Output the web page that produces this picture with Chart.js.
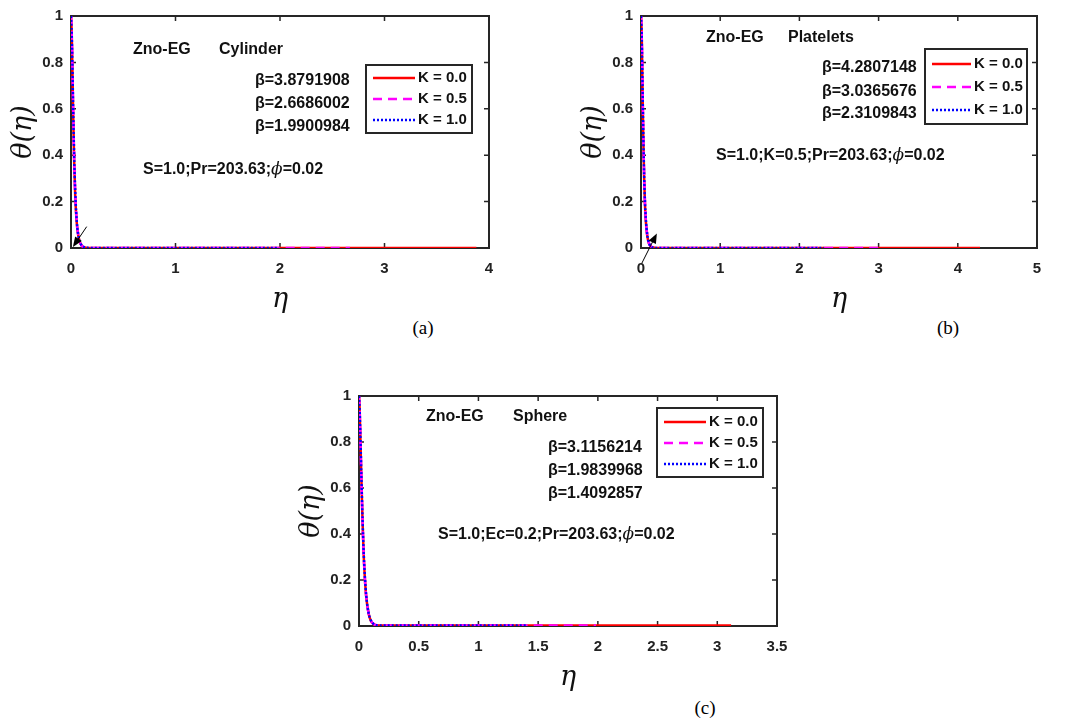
<!DOCTYPE html>
<html>
<head>
<meta charset="utf-8">
<script src="https://cdn.jsdelivr.net/npm/chart.js@4.4.0/dist/chart.umd.min.js"></script>
<style>
  body { margin: 0; background: #fff; width: 1068px; height: 718px; position: relative; overflow: hidden; }
  canvas { position: absolute; }
  .cap { position: absolute; font: 19px "Liberation Serif", "Times New Roman", serif; color: #000; transform: translate(-50%, -50%); }
</style>
</head>
<body>
<canvas id="cA" width="500" height="316" style="left:0px;top:0px"></canvas>
<canvas id="cB" width="498" height="316" style="left:570px;top:0px"></canvas>
<canvas id="cC" width="504" height="314" style="left:288px;top:380px"></canvas>
<div class="cap" style="left:423px;top:328px">(a)</div>
<div class="cap" style="left:948px;top:328px">(b)</div>
<div class="cap" style="left:705px;top:708px">(c)</div>
<script>
// --- data ---
const kLabels = ["K = 0.0", "K = 0.5", "K = 1.0"];
const yTicks = [0, 0.2, 0.4, 0.6, 0.8, 1];
const yTickLabels = ["0", "0.2", "0.4", "0.6", "0.8", "1"];

// (a) cylinder
const etaA = [0, 0.005, 0.01, 0.02, 0.03, 0.04, 0.05, 0.06, 0.08, 0.1, 0.12, 0.15, 0.2];
const thetaA_K0 = [1, 0.95, 0.86, 0.6, 0.38, 0.23, 0.14, 0.085, 0.032, 0.012, 0.004, 0.001, 0];
const thetaA_K05 = [1, 0.95, 0.86, 0.61, 0.39, 0.24, 0.145, 0.088, 0.033, 0.012, 0.004, 0.001, 0];
const thetaA_K1 = [1, 0.95, 0.87, 0.62, 0.4, 0.25, 0.15, 0.09, 0.034, 0.013, 0.005, 0.001, 0];
const betaA = [3.8791908, 2.6686002, 1.9900984];
const xTicksA = [0, 1, 2, 3, 4];
const xTickLabelsA = ["0", "1", "2", "3", "4"];

// (b) platelets
const etaB = [0, 0.005, 0.01, 0.02, 0.03, 0.04, 0.05, 0.06, 0.08, 0.1, 0.12, 0.15, 0.2];
const thetaB_K0 = [1, 0.96, 0.9, 0.67, 0.46, 0.3, 0.19, 0.12, 0.05, 0.02, 0.008, 0.002, 0];
const thetaB_K05 = [1, 0.96, 0.9, 0.68, 0.47, 0.31, 0.2, 0.125, 0.052, 0.021, 0.008, 0.002, 0];
const thetaB_K1 = [1, 0.96, 0.9, 0.68, 0.47, 0.31, 0.2, 0.13, 0.055, 0.022, 0.009, 0.002, 0];
const betaB = [4.2807148, 3.0365676, 2.3109843];
const xTicksB = [0, 1, 2, 3, 4, 5];
const xTickLabelsB = ["0", "1", "2", "3", "4", "5"];

// (c) sphere
const etaC = [0, 0.005, 0.01, 0.02, 0.03, 0.04, 0.05, 0.06, 0.08, 0.1, 0.12, 0.15, 0.2];
const thetaC_K0 = [1, 0.95, 0.85, 0.64, 0.45, 0.3, 0.2, 0.13, 0.055, 0.022, 0.009, 0.003, 0.002];
const thetaC_K05 = [1, 0.95, 0.85, 0.64, 0.45, 0.3, 0.2, 0.13, 0.056, 0.023, 0.01, 0.003, 0.002];
const thetaC_K1 = [1, 0.95, 0.86, 0.65, 0.46, 0.31, 0.21, 0.135, 0.058, 0.024, 0.01, 0.003, 0.002];
const betaC = [3.1156214, 1.9839968, 1.4092857];
const xTicksC = [0, 0.5, 1, 1.5, 2, 2.5, 3, 3.5];
const xTickLabelsC = ["0", "0.5", "1", "1.5", "2", "2.5", "3", "3.5"];

// --- styles ---
const lineStyles = [
  { color: "#ff0000", dash: [] },
  { color: "#ff00ff", dash: [9, 6] },
  { color: "#0000ff", dash: [2, 2] }
];
const frameColor = "#262626";
const boldFont = 'bold 16px "Liberation Sans", Arial, sans-serif';
const italicSerif = 'italic 17px "DejaVu Serif", serif';

function richText(ctx, segs, x, y) {
  ctx.textBaseline = "middle";
  ctx.textAlign = "left";
  let cx = x;
  segs.forEach(s => {
    ctx.font = s.f || boldFont;
    ctx.fillText(s.t, cx, y);
    cx += ctx.measureText(s.t).width;
  });
}

function arrow(ctx, x0, y0, x1, y1) {
  const ang = Math.atan2(y1 - y0, x1 - x0);
  const L = 10, W = 4;
  ctx.beginPath();
  ctx.moveTo(x0, y0);
  ctx.lineTo(x1 - L * 0.6 * Math.cos(ang), y1 - L * 0.6 * Math.sin(ang));
  ctx.lineWidth = 1;
  ctx.strokeStyle = "#000";
  ctx.stroke();
  ctx.beginPath();
  ctx.moveTo(x1, y1);
  ctx.lineTo(x1 - L * Math.cos(ang) + W * Math.sin(ang), y1 - L * Math.sin(ang) - W * Math.cos(ang));
  ctx.lineTo(x1 - L * Math.cos(ang) - W * Math.sin(ang), y1 - L * Math.sin(ang) + W * Math.cos(ang));
  ctx.closePath();
  ctx.fillStyle = "#000";
  ctx.fill();
}

const matlabBox = {
  id: "matlabBox",
  beforeDatasetsDraw(chart) {
    // frame + inward ticks on all sides, under the curves
    const { ctx, chartArea: a, scales: { x, y } } = chart;
    ctx.save();
    ctx.strokeStyle = frameColor;
    ctx.lineWidth = 2;
    ctx.setLineDash([]);
    ctx.strokeRect(a.left, a.top, a.right - a.left, a.bottom - a.top);
    ctx.lineWidth = 1.5;
    ctx.beginPath();
    x.ticks.forEach(t => {
      const px = x.getPixelForValue(t.value);
      ctx.moveTo(px, a.bottom); ctx.lineTo(px, a.bottom - 5);
      ctx.moveTo(px, a.top); ctx.lineTo(px, a.top + 5);
    });
    y.ticks.forEach(t => {
      const py = y.getPixelForValue(t.value);
      ctx.moveTo(a.left, py); ctx.lineTo(a.left + 5, py);
      ctx.moveTo(a.right, py); ctx.lineTo(a.right - 5, py);
    });
    ctx.stroke();
    ctx.restore();
  },
  afterDraw(chart, args, o) {
    const { ctx, chartArea: a, scales: { x, y } } = chart;
    ctx.save();
    // arrow, given in data coordinates
    if (o.arrow) {
      const [e0, t0, e1, t1] = o.arrow;
      arrow(ctx, x.getPixelForValue(e0), y.getPixelForValue(t0), x.getPixelForValue(e1), y.getPixelForValue(t1));
    }

    // legend box
    const lg = o.legend;
    const bx = a.left + lg.x, by = a.top + lg.y;
    ctx.fillStyle = "#fff";
    ctx.fillRect(bx, by, lg.w, lg.h);
    ctx.lineWidth = 2;
    ctx.strokeStyle = frameColor;
    ctx.strokeRect(bx, by, lg.w, lg.h);
    chart.data.datasets.forEach((d, i) => {
      const ry = by + lg.rows[i];
      ctx.beginPath();
      ctx.setLineDash(d.borderDash);
      ctx.strokeStyle = d.borderColor;
      ctx.lineWidth = 2.5;
      ctx.moveTo(bx + lg.s0, ry);
      ctx.lineTo(bx + lg.s1, ry);
      ctx.stroke();
      ctx.setLineDash([]);
      ctx.fillStyle = "#111";
      ctx.font = 'bold 15px "Liberation Sans", Arial, sans-serif';
      ctx.textBaseline = "middle";
      ctx.textAlign = "left";
      ctx.fillText(d.label, bx + lg.tx, ry);
    });

    // annotation texts
    ctx.fillStyle = "#111";
    o.texts.forEach(t => richText(ctx, t.segs, a.left + t.x, a.top + t.y));
    ctx.restore();
  }
};

function makePanel(id, eta, thetas, beta, xTicks, xLabels, xMax, box) {
  const datasets = thetas.map((th, i) => ({
    label: kLabels[i],
    data: eta.map((e, j) => ({ x: e, y: th[j] })).concat([{ x: beta[i], y: th[th.length - 1] }]),
    borderColor: lineStyles[i].color,
    borderDash: lineStyles[i].dash,
    borderWidth: 2.5,
    pointRadius: 0,
    showLine: true,
    fill: false,
    cubicInterpolationMode: "monotone",
    order: 3 - i
  }));
  new Chart(document.getElementById(id), {
    type: "scatter",
    data: { datasets },
    options: {
      responsive: false,
      animation: false,
      layout: { padding: { left: 0, top: 16, right: box.padRight, bottom: 0 } },
      plugins: { legend: { display: false }, tooltip: { enabled: false }, matlabBox: box },
      scales: {
        x: {
          type: "linear", min: 0, max: xMax,
          afterBuildTicks: s => { s.ticks = xTicks.map(v => ({ value: v })); },
          afterFit: s => { s.height = 68; s.paddingLeft = 0; s.paddingRight = 0; },
          grid: { display: false, drawTicks: false }, border: { display: false },
          ticks: {
            padding: 12, color: "#222", maxRotation: 0,
            font: { family: '"Liberation Sans", Arial, sans-serif', size: 15, weight: "bold" },
            callback: (v, i) => xLabels[i]
          },
          title: { display: true, text: "η", color: "#111", padding: { top: 0, bottom: 0 },
                   font: { family: '"DejaVu Serif", serif', size: 27, style: "italic" } }
        },
        y: {
          type: "linear", min: 0, max: 1,
          afterBuildTicks: s => { s.ticks = yTicks.map(v => ({ value: v })); },
          afterFit: s => { s.width = 71; s.paddingTop = 0; s.paddingBottom = 0; },
          grid: { display: false, drawTicks: false }, border: { display: false },
          ticks: {
            padding: 8, color: "#222",
            font: { family: '"Liberation Sans", Arial, sans-serif', size: 15, weight: "bold" },
            callback: (v, i) => yTickLabels[i]
          },
          title: { display: true, text: "θ(η)", color: "#111", padding: { top: 8, bottom: 0 },
                   font: { family: '"DejaVu Serif", serif', size: 27, style: "italic" } }
        }
      }
    },
    plugins: [matlabBox]
  });
}

const phi = { t: "ϕ", f: italicSerif };

makePanel("cA", etaA, [thetaA_K0, thetaA_K05, thetaA_K1], betaA, xTicksA, xTickLabelsA, 4, {
  padRight: 11,
  arrow: [0.15, 0.092, 0.018, 0.004],
  legend: { x: 295, y: 49, w: 106, h: 68, rows: [13, 34, 55], s0: 7, s1: 49, tx: 52 },
  texts: [
    { x: 62, y: 34, segs: [{ t: "Zno-EG" }] },
    { x: 148, y: 34, segs: [{ t: "Cylinder" }] },
    { x: 184, y: 65, segs: [{ t: "β=" + betaA[0].toFixed(7) }] },
    { x: 184, y: 88, segs: [{ t: "β=" + betaA[1].toFixed(7) }] },
    { x: 184, y: 111, segs: [{ t: "β=" + betaA[2].toFixed(7) }] },
    { x: 72, y: 154, segs: [{ t: "S=1.0;Pr=203.63;" }, phi, { t: "=0.02" }] }
  ]
});

makePanel("cB", etaB, [thetaB_K0, thetaB_K05, thetaB_K1], betaB, xTicksB, xTickLabelsB, 5, {
  padRight: 31,
  arrow: [0.01, -0.066, 0.2, 0.063],
  legend: { x: 284, y: 33, w: 102, h: 75, rows: [15, 38, 61], s0: 7, s1: 46, tx: 49 },
  texts: [
    { x: 65, y: 22, segs: [{ t: "Zno-EG" }] },
    { x: 147, y: 22, segs: [{ t: "Platelets" }] },
    { x: 181, y: 52, segs: [{ t: "β=" + betaB[0].toFixed(7) }] },
    { x: 181, y: 76, segs: [{ t: "β=" + betaB[1].toFixed(7) }] },
    { x: 181, y: 98, segs: [{ t: "β=" + betaB[2].toFixed(7) }] },
    { x: 75, y: 140, segs: [{ t: "S=1.0;K=0.5;Pr=203.63;" }, phi, { t: "=0.02" }] }
  ]
});

makePanel("cC", etaC, [thetaC_K0, thetaC_K05, thetaC_K1], betaC, xTicksC, xTickLabelsC, 3.5, {
  padRight: 15,
  legend: { x: 298, y: 12, w: 106, h: 69, rows: [14, 35, 56], s0: 7, s1: 49, tx: 52 },
  texts: [
    { x: 67, y: 21, segs: [{ t: "Zno-EG" }] },
    { x: 154, y: 21, segs: [{ t: "Sphere" }] },
    { x: 189, y: 52, segs: [{ t: "β=" + betaC[0].toFixed(7) }] },
    { x: 189, y: 75, segs: [{ t: "β=" + betaC[1].toFixed(7) }] },
    { x: 189, y: 98, segs: [{ t: "β=" + betaC[2].toFixed(7) }] },
    { x: 79, y: 139, segs: [{ t: "S=1.0;Ec=0.2;Pr=203.63;" }, phi, { t: "=0.02" }] }
  ]
});
</script>
</body>
</html>
